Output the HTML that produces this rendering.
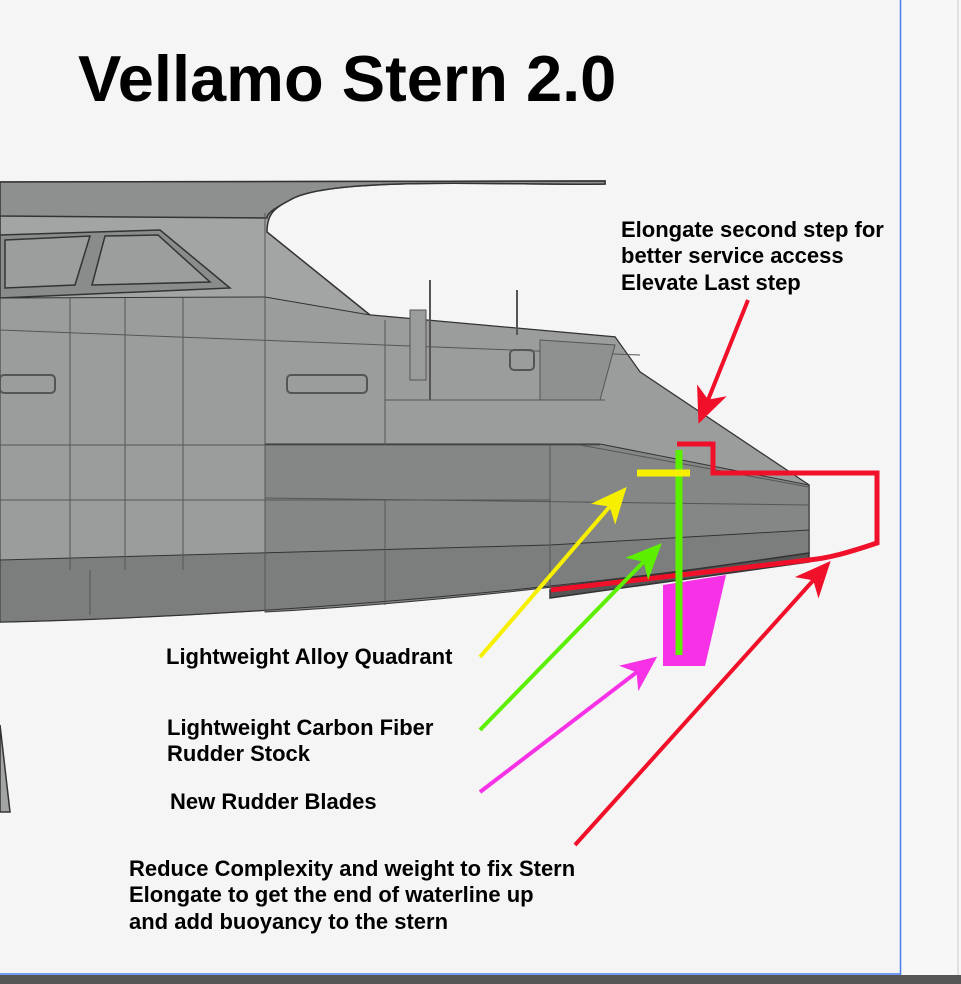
<!DOCTYPE html>
<html><head><style>
html,body{margin:0;padding:0;width:961px;height:984px;overflow:hidden;background:#f4f5f4;}
svg{position:absolute;left:0;top:0;}
.t{font-family:"Liberation Sans",Arial,sans-serif;font-weight:bold;fill:#000;}
</style></head><body>
<svg width="961" height="984" viewBox="0 0 961 984">
<rect x="0" y="0" width="961" height="984" fill="#f4f5f4"/>
<rect x="901" y="0" width="60" height="975" fill="#f6f7f6"/>
<line x1="958" y1="0" x2="958" y2="975" stroke="#c8c8c8" stroke-width="1"/>
<rect x="0" y="975" width="961" height="9" fill="#555"/>
<line x1="900.5" y1="0" x2="900.5" y2="975" stroke="#4a7cf0" stroke-width="1.5"/>
<line x1="0" y1="974" x2="900" y2="974" stroke="#4a7cf0" stroke-width="1.5"/>

<text class="t" x="78" y="101" font-size="65">Vellamo Stern 2.0</text>

<!-- boat -->
<g stroke="#333" stroke-width="1.5">
<path d="M0,182 L605,181 L605,184 C520,186 330,175 290,200 C275,208 267,213 267,232 L370,315 L615,337 L640,372 L809,485 L809,553 C600,585 300,615 0,622 Z" fill="#a3a5a4"/>
<path d="M0,182 L605,181 L605,184 C520,186 330,175 290,200 C275,208 267,213 267,218 L0,216 Z" fill="#8e9090"/>
<path d="M0,235 L160,230 L230,288 L0,298 Z" fill="#8a8c8c"/>
<path d="M5,240 L90,236 L75,285 L5,288 Z" fill="#9c9e9e"/>
<path d="M105,236 L158,235 L210,282 L92,285 Z" fill="#9c9e9e"/>
<path d="M0,298 L265,297 L370,315 L615,337 L640,372 L809,485 L809,553 C600,585 300,615 0,622 Z" fill="#9b9d9c" stroke-width="1"/>
<path d="M265,444 L600,444 L809,485 L809,553 C600,585 400,605 265,612 Z" fill="#858786" stroke-width="1"/>
<path d="M0,560 L550,545 L809,530 L809,553 C600,585 300,615 0,622 Z" fill="#7c7e7d" stroke-width="1"/>
<path d="M550,590 L809,553 L809,562 L550,598 Z" fill="#555"/>
</g>
<g stroke="#555" stroke-width="1" fill="none">
<line x1="0" y1="330" x2="640" y2="355"/>
<line x1="265" y1="213" x2="265" y2="612"/>
<line x1="70" y1="298" x2="70" y2="570"/>
<line x1="125" y1="298" x2="125" y2="570"/>
<line x1="183" y1="298" x2="183" y2="570"/>
<line x1="0" y1="445" x2="600" y2="445"/>
<line x1="0" y1="500" x2="550" y2="500"/>
<line x1="265" y1="498" x2="809" y2="505"/>
<line x1="385" y1="400" x2="605" y2="400"/>
<line x1="550" y1="445" x2="550" y2="590"/>
<line x1="385" y1="320" x2="385" y2="445"/>
<line x1="90" y1="570" x2="90" y2="615"/>
<line x1="385" y1="500" x2="385" y2="605"/>
<line x1="430" y1="280" x2="430" y2="400" stroke-width="2"/>
<line x1="517" y1="290" x2="517" y2="335" stroke-width="2"/>
<rect x="410" y="310" width="16" height="70" fill="#9a9c9b"/>
<rect x="287" y="375" width="80" height="18" rx="4" stroke-width="2"/>
<rect x="0" y="375" width="55" height="18" rx="4" stroke-width="2"/>
<rect x="510" y="350" width="24" height="20" rx="4" stroke-width="2"/>
<path d="M540,340 L615,345 L600,400 L540,400 Z" fill="#8f9190"/>
<path d="M580,445 L809,487"/>
</g>
<path d="M0,725 L10,812 L0,812 Z" fill="#a3a5a4" stroke="#333" stroke-width="1.5"/>

<!-- red outline -->
<path d="M677,444 L713,444 L713,473 L877,473 L877,543 C850,552 830,558 809,560 L551,590" fill="none" stroke="#f0102a" stroke-width="5"/>
<path d="M663,585 L726,575 L705,666 L663,666 Z" fill="#f732e6"/>
<line x1="679" y1="450" x2="679" y2="655" stroke="#5cf000" stroke-width="7"/>
<line x1="637" y1="473" x2="690" y2="473" stroke="#f6f000" stroke-width="7"/>

<defs>
<marker id="ay" markerWidth="9" markerHeight="8" refX="8" refY="4" orient="auto" markerUnits="strokeWidth"><path d="M0,0 L9,4 L0,8 L2.5,4 Z" fill="#f6f000"/></marker>
<marker id="ag" markerWidth="9" markerHeight="8" refX="8" refY="4" orient="auto" markerUnits="strokeWidth"><path d="M0,0 L9,4 L0,8 L2.5,4 Z" fill="#5cf000"/></marker>
<marker id="am" markerWidth="9" markerHeight="8" refX="8" refY="4" orient="auto" markerUnits="strokeWidth"><path d="M0,0 L9,4 L0,8 L2.5,4 Z" fill="#f732e6"/></marker>
<marker id="ar" markerWidth="9" markerHeight="8" refX="8" refY="4" orient="auto" markerUnits="strokeWidth"><path d="M0,0 L9,4 L0,8 L2.5,4 Z" fill="#f0102a"/></marker>
</defs>
<line x1="480" y1="657" x2="624" y2="490" stroke="#f6f000" stroke-width="4" marker-end="url(#ay)"/>
<line x1="480" y1="730" x2="659" y2="546" stroke="#5cf000" stroke-width="4" marker-end="url(#ag)"/>
<line x1="480" y1="792" x2="654" y2="659" stroke="#f732e6" stroke-width="4" marker-end="url(#am)"/>
<line x1="575" y1="845" x2="828" y2="564" stroke="#f0102a" stroke-width="4" marker-end="url(#ar)"/>
<line x1="748" y1="300" x2="700" y2="420" stroke="#f0102a" stroke-width="4" marker-end="url(#ar)"/>

<g class="t" font-size="22">
<text x="621" y="237">Elongate second step for</text>
<text x="621" y="263">better service access</text>
<text x="621" y="290">Elevate Last step</text>
<text x="166" y="664">Lightweight Alloy Quadrant</text>
<text x="167" y="735">Lightweight Carbon Fiber</text>
<text x="167" y="761">Rudder Stock</text>
<text x="170" y="809">New Rudder Blades</text>
<text x="129" y="876">Reduce Complexity and weight to fix Stern</text>
<text x="129" y="902">Elongate to get the end of waterline up</text>
<text x="129" y="929">and add buoyancy to the stern</text>
</g>
</svg>
</body></html>
